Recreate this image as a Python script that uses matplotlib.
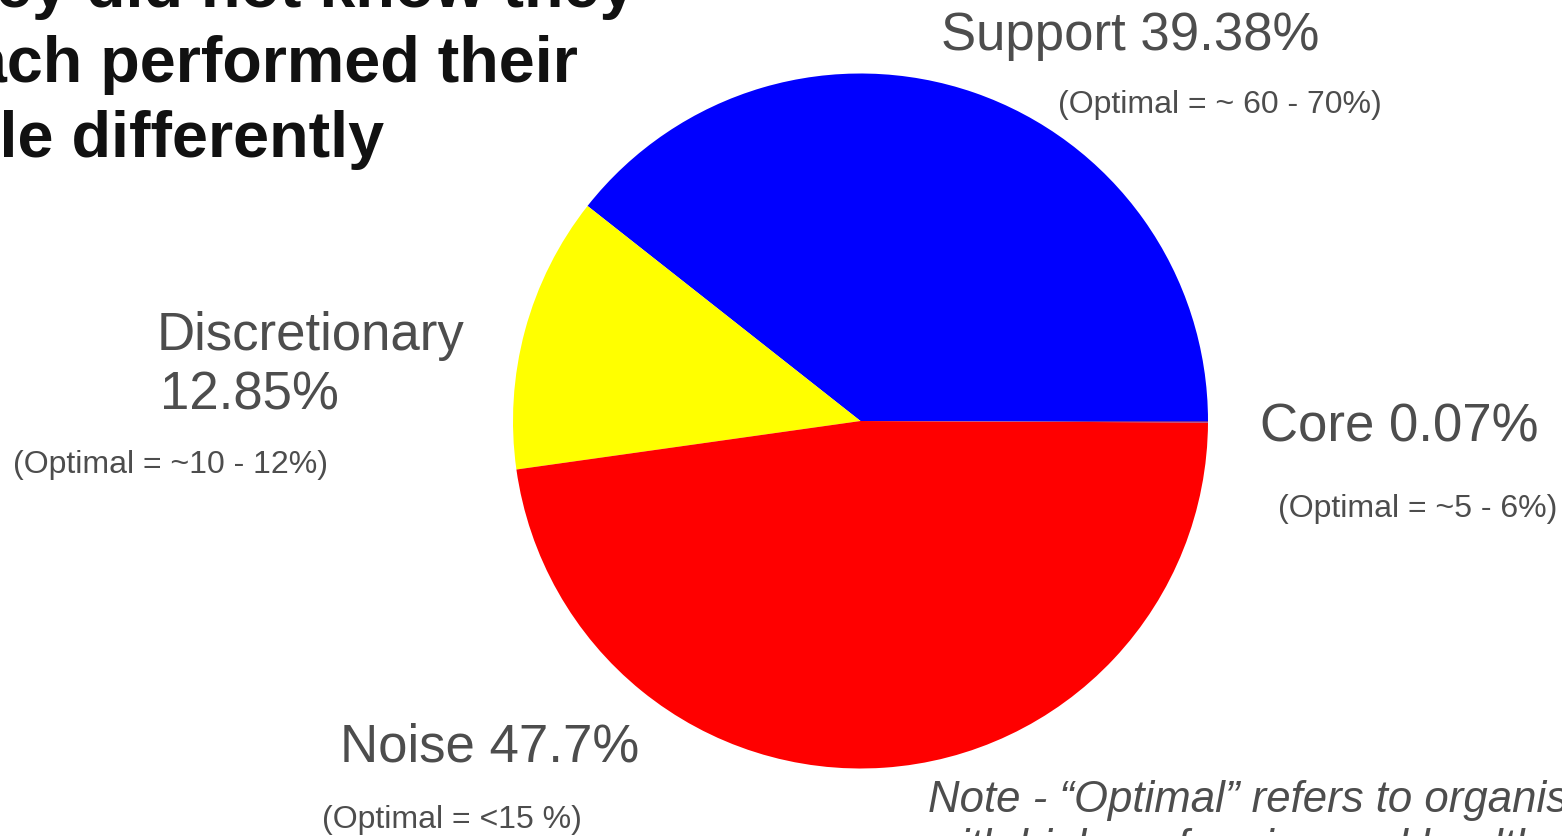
import matplotlib
matplotlib.use("Agg")
import matplotlib.pyplot as plt

plt.rcParams["font.family"] = ["Liberation Sans", "DejaVu Sans"]

W, H = 1562, 837

labels = ["Support", "Discretionary", "Noise", "Core"]
shares = [39.38, 12.85, 47.7, 0.07]
colors = ["#0000FF", "#FFFF00", "#FF0000", "#7030A0"]
optimal = ["(Optimal = ~ 60 - 70%)", "(Optimal = ~10 - 12%)", "(Optimal = <15 %)", "(Optimal = ~5 - 6%)"]
title_lines = ["they did not know they", "each performed their", "role differently"]
note_lines = ["Note - \u201cOptimal\u201d refers to organisations",
              "with high performing and healthy cultures"]

TEXT = "#4d4d4d"


def put(x, y, s, **kw):
    # x, y in pixels from top-left, y is the baseline
    fig.text(x / W, 1 - y / H, s, va="baseline", ha="left", **kw)


fig = plt.figure(figsize=(W / 100, H / 100), dpi=100)

cx, cy, r = 860.5, 422, 347.5
ax = fig.add_axes([(cx - r) / W, (H - cy - r) / H, 2 * r / W, 2 * r / H])
ax.pie(shares, colors=colors, startangle=0, counterclock=True, radius=1,
       wedgeprops=dict(linewidth=0))
ax.set_xlim(-1, 1)
ax.set_ylim(-1, 1)
ax.set_aspect("equal")
ax.axis("off")

# title, cut off at the left and top like the slide crop
for i, line in enumerate(title_lines):
    put(-65, 7 + 75 * i, line, fontsize=46.5, fontweight="bold", color="#111111")

# slice labels
put(941, 50, f"{labels[0]} {shares[0]}%", fontsize=38, color=TEXT)
put(1058, 113, optimal[0], fontsize=23, color=TEXT)

put(157, 350, labels[1], fontsize=38, color=TEXT)
put(160, 410, f"{shares[1]}%", fontsize=38, color=TEXT)
put(13, 473, optimal[1], fontsize=23, color=TEXT)

put(340, 762, f"{labels[2]} {shares[2]}%", fontsize=38, color=TEXT)
put(322, 828, optimal[2], fontsize=23, color=TEXT)

put(1260, 442, f"{labels[3]} {shares[3]}%", fontsize=38, color=TEXT)
put(1278, 517, optimal[3], fontsize=23, color=TEXT)

# note
put(928, 812, note_lines[0], fontsize=31.5, style="italic", color=TEXT)
put(928, 860, note_lines[1], fontsize=31.5, style="italic", color=TEXT)

fig.savefig("out.png", dpi=100)
